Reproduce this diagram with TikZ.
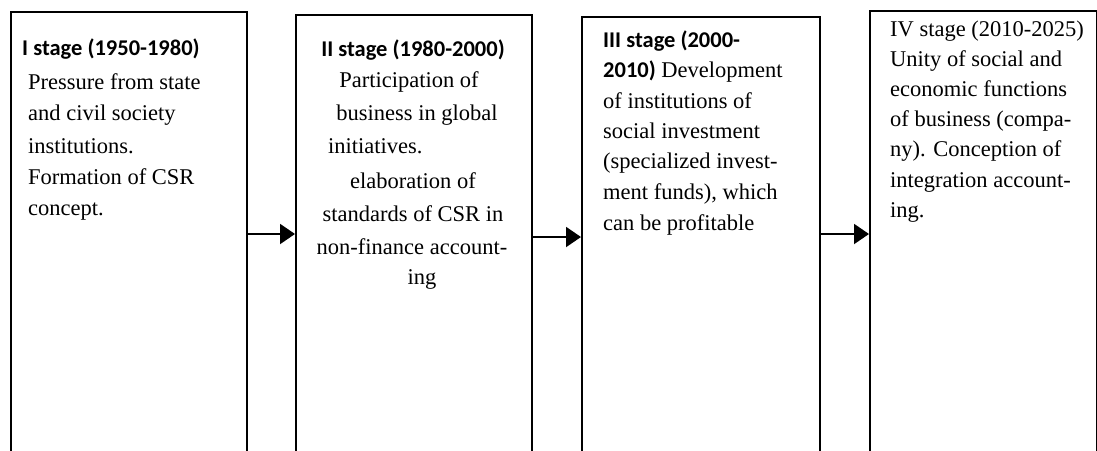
\documentclass[tikz,border=0pt]{standalone}
\usepackage{fontspec}
\setmainfont{Liberation Serif}
\newfontfamily\titlefont{Carlito}
\usetikzlibrary{arrows.meta}
\begin{document}
\begin{tikzpicture}[x=1pt,y=-1pt,
  stagebox/.style={draw, line width=2pt, inner sep=0pt, anchor=north west, minimum height=444pt},
  ln/.style={anchor=base west, inner sep=0pt, font=\fontsize{22.5}{30}\selectfont},
  lnc/.style={anchor=base, inner sep=0pt, font=\fontsize{22.5}{30}\selectfont},
  ttl/.style={font=\fontsize{22.5}{30}\selectfont\titlefont\bfseries},
  arr/.style={line width=2pt, -{Triangle[length=15pt,width=20pt]}}]
\useasboundingbox (0,0) rectangle (1097,450);
\clip (0,0) rectangle (1097,450);
\fill[white] (0,0) rectangle (1097,450);
% boxes
\node[stagebox, minimum width=236pt] (b1) at (9.5,11) {};
\node[stagebox, minimum width=236pt] (b2) at (295,14) {};
\node[stagebox, minimum width=238pt] (b3) at (581,16) {};
\node[stagebox, minimum width=227pt] (b4) at (869,10) {};
% arrows
\draw[arr] (b1.east) -- (b1.east -| b2.west);
\draw[arr] (b2.east) -- (b2.east -| b3.west);
\draw[arr] ([yshift=5pt]b3.east) -- ([yshift=5pt]b3.east -| b4.west);
% box 1 text
\node[ln, ttl] (t11) at (22,55) {I stage (1950-1980)};
\node[ln] (t12) at (28,89) {Pressure from state};
\node[ln] (t13) at (28,120) {and civil society};
\node[ln] (t14) at (28,153) {institutions.};
\node[ln] (t15) at (28,184) {Formation of CSR};
\node[ln] (t16) at (28,215) {concept.};
% box 2 text
\node[lnc, ttl] (t21) at (413,56) {II stage (1980-2000)};
\node[lnc] (t22) at (409,87) {Participation of};
\node[lnc] (t23) at (417,120) {business in global};
\node[ln] (t24) at (328,153) {initiatives.};
\node[lnc] (t25) at (413,188) {elaboration of};
\node[lnc] (t26) at (413,221) {standards of CSR in};
\node[lnc] (t27) at (412,254) {non-finance account-};
\node[lnc] (t28) at (422,284) {ing};
% box 3 text
\node[ln, ttl] (t31) at (603,47) {III stage (2000-};
\node[ln] (t32) at (603,77) {{\titlefont\bfseries 2010)} Development};
\node[ln] (t33) at (603,108) {of institutions of};
\node[ln] (t34) at (603,138) {social investment};
\node[ln] (t35) at (603,168) {(specialized invest-};
\node[ln] (t36) at (603,199) {ment funds), which};
\node[ln] (t37) at (603,230) {can be profitable};
% box 4 text
\node[ln] (t41) at (890,36) {IV stage (2010-2025)};
\node[ln] (t42) at (890,66) {Unity of social and};
\node[ln] (t43) at (890,96) {economic functions};
\node[ln] (t44) at (890,126) {of business (compa-};
\node[ln] (t45) at (890,156) {ny). Conception of};
\node[ln] (t46) at (890,187) {integration account-};
\node[ln] (t47) at (890,217) {ing.};
\end{tikzpicture}
\end{document}
